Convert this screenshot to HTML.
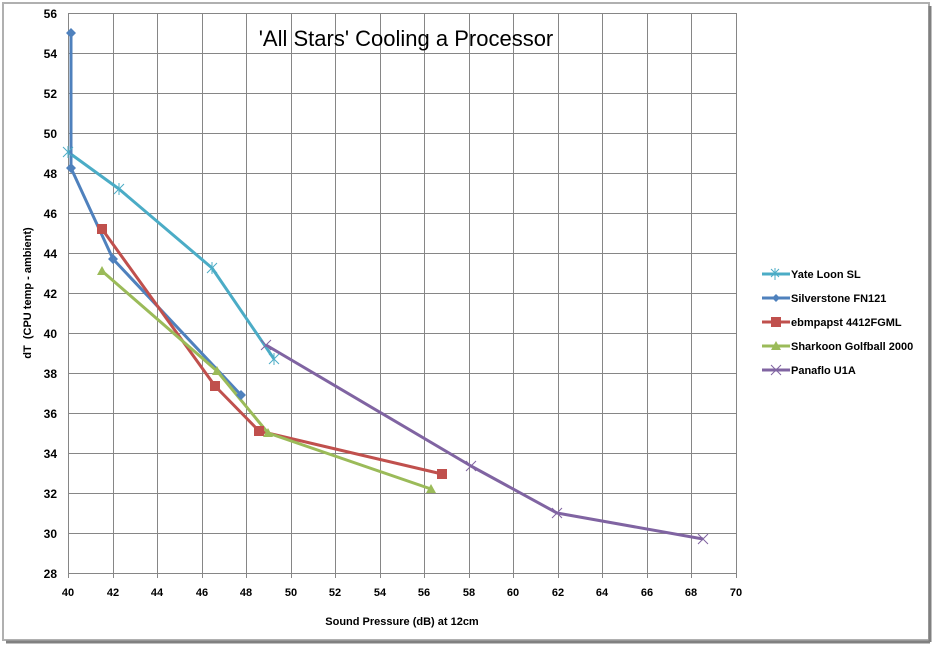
<!DOCTYPE html>
<html><head><style>body{margin:0;background:#fff}svg{display:block}</style></head><body>
<svg width="934" height="646" xmlns="http://www.w3.org/2000/svg" font-family="Liberation Sans, sans-serif">
<rect x="0" y="0" width="934" height="646" fill="#fff"/>
<rect x="3" y="3" width="926" height="637" fill="#fff" stroke="#b0b0b0" stroke-width="2"/>
<line x1="930" y1="6" x2="930" y2="642" stroke="#808080" stroke-width="3"/>
<line x1="6" y1="642" x2="930" y2="642" stroke="#808080" stroke-width="3"/>
<g stroke="#868686" stroke-width="1">
<line x1="68" y1="13.5" x2="736" y2="13.5"/><line x1="68" y1="53.5" x2="736" y2="53.5"/><line x1="68" y1="93.5" x2="736" y2="93.5"/><line x1="68" y1="133.5" x2="736" y2="133.5"/><line x1="68" y1="173.5" x2="736" y2="173.5"/><line x1="68" y1="213.5" x2="736" y2="213.5"/><line x1="68" y1="253.5" x2="736" y2="253.5"/><line x1="68" y1="293.5" x2="736" y2="293.5"/><line x1="68" y1="333.5" x2="736" y2="333.5"/><line x1="68" y1="373.5" x2="736" y2="373.5"/><line x1="68" y1="413.5" x2="736" y2="413.5"/><line x1="68" y1="453.5" x2="736" y2="453.5"/><line x1="68" y1="493.5" x2="736" y2="493.5"/><line x1="68" y1="533.5" x2="736" y2="533.5"/><line x1="68" y1="573.5" x2="736" y2="573.5"/>
<line x1="68.5" y1="13" x2="68.5" y2="578"/><line x1="113.5" y1="13" x2="113.5" y2="578"/><line x1="157.5" y1="13" x2="157.5" y2="578"/><line x1="202.5" y1="13" x2="202.5" y2="578"/><line x1="246.5" y1="13" x2="246.5" y2="578"/><line x1="291.5" y1="13" x2="291.5" y2="578"/><line x1="335.5" y1="13" x2="335.5" y2="578"/><line x1="380.5" y1="13" x2="380.5" y2="578"/><line x1="424.5" y1="13" x2="424.5" y2="578"/><line x1="469.5" y1="13" x2="469.5" y2="578"/><line x1="513.5" y1="13" x2="513.5" y2="578"/><line x1="558.5" y1="13" x2="558.5" y2="578"/><line x1="602.5" y1="13" x2="602.5" y2="578"/><line x1="647.5" y1="13" x2="647.5" y2="578"/><line x1="691.5" y1="13" x2="691.5" y2="578"/><line x1="736.5" y1="13" x2="736.5" y2="578"/>
</g>
<g font-size="12" fill="#000" text-anchor="end" font-weight="bold">
<text x="57" y="18">56</text><text x="57" y="58">54</text><text x="57" y="98">52</text><text x="57" y="138">50</text><text x="57" y="178">48</text><text x="57" y="218">46</text><text x="57" y="258">44</text><text x="57" y="298">42</text><text x="57" y="338">40</text><text x="57" y="378">38</text><text x="57" y="418">36</text><text x="57" y="458">34</text><text x="57" y="498">32</text><text x="57" y="538">30</text><text x="57" y="578">28</text>
</g>
<g font-size="11" fill="#000" text-anchor="middle" font-weight="bold">
<text x="68" y="596">40</text><text x="113" y="596">42</text><text x="157" y="596">44</text><text x="202" y="596">46</text><text x="246" y="596">48</text><text x="291" y="596">50</text><text x="335" y="596">52</text><text x="380" y="596">54</text><text x="424" y="596">56</text><text x="469" y="596">58</text><text x="513" y="596">60</text><text x="558" y="596">62</text><text x="602" y="596">64</text><text x="647" y="596">66</text><text x="691" y="596">68</text><text x="736" y="596">70</text>
</g>
<text x="402" y="625" font-size="11" text-anchor="middle" font-weight="bold">Sound Pressure (dB) at 12cm</text>
<text transform="translate(31,293) rotate(-90)" font-size="11" font-weight="bold" text-anchor="middle">dT&#160; (CPU temp - ambient)</text>
<text x="406" y="46" font-size="22" text-anchor="middle">'All Stars' Cooling a Processor</text>
<g fill="none" stroke-width="3" stroke-linejoin="round">
<polyline points="68,152 119,189 212,268 274,359" stroke="#4BACC6"/>
<polyline points="71,33 71,168 113,259 241,395" stroke="#4F81BD"/>
<polyline points="102,229 215,386 259,431 442,474" stroke="#C0504D"/>
<polyline points="102,271 217,371 268,433 431,489" stroke="#9BBB59"/>
<polyline points="266,345 471,466 557,513 703,539" stroke="#8064A2"/>
</g>
<g stroke="#4BACC6" stroke-width="1"><path d="M63,147l10,10M63,157l10,-10M68,146v12M114,184l10,10M114,194l10,-10M119,183v12M207,263l10,10M207,273l10,-10M212,262v12M269,354l10,10M269,364l10,-10M274,353v12"/></g>
<g fill="#4F81BD"><path d="M71,28l5,5l-5,5l-5,-5zM71,163l5,5l-5,5l-5,-5zM113,254l5,5l-5,5l-5,-5zM241,390l5,5l-5,5l-5,-5z"/></g>
<g fill="#C0504D"><rect x="97" y="224" width="10" height="10"/><rect x="210" y="381" width="10" height="10"/><rect x="254" y="426" width="10" height="10"/><rect x="437" y="469" width="10" height="10"/></g>
<g fill="#9BBB59"><path d="M102,266l5,9h-10zM217,366l5,9h-10zM268,428l5,9h-10zM431,484l5,9h-10z"/></g>
<g stroke="#8064A2" stroke-width="1"><path d="M261,340l10,10M261,350l10,-10M466,461l10,10M466,471l10,-10M552,508l10,10M552,518l10,-10M698,534l10,10M698,544l10,-10"/></g>
<g font-size="11" fill="#000" font-weight="bold">
<line x1="762" y1="274" x2="790" y2="274" stroke="#4BACC6" stroke-width="3"/><path d="M771,269l8,8M771,277l8,-8M775,268v12" stroke="#4BACC6"/><text x="791" y="278">Yate Loon SL</text>
<line x1="762" y1="298" x2="790" y2="298" stroke="#4F81BD" stroke-width="3"/><path d="M776,294l4,4l-4,4l-4,-4z" fill="#4F81BD"/><text x="791" y="302">Silverstone FN121</text>
<line x1="762" y1="322" x2="790" y2="322" stroke="#C0504D" stroke-width="3"/><rect x="771" y="317" width="10" height="10" fill="#C0504D"/><text x="791" y="326">ebmpapst 4412FGML</text>
<line x1="762" y1="346" x2="790" y2="346" stroke="#9BBB59" stroke-width="3"/><path d="M776,341l5,9h-10z" fill="#9BBB59"/><text x="791" y="350">Sharkoon Golfball 2000</text>
<line x1="762" y1="370" x2="790" y2="370" stroke="#8064A2" stroke-width="3"/><path d="M771,365l10,10M771,375l10,-10" stroke="#8064A2"/><text x="791" y="374">Panaflo U1A</text>
</g>
</svg>
</body></html>
